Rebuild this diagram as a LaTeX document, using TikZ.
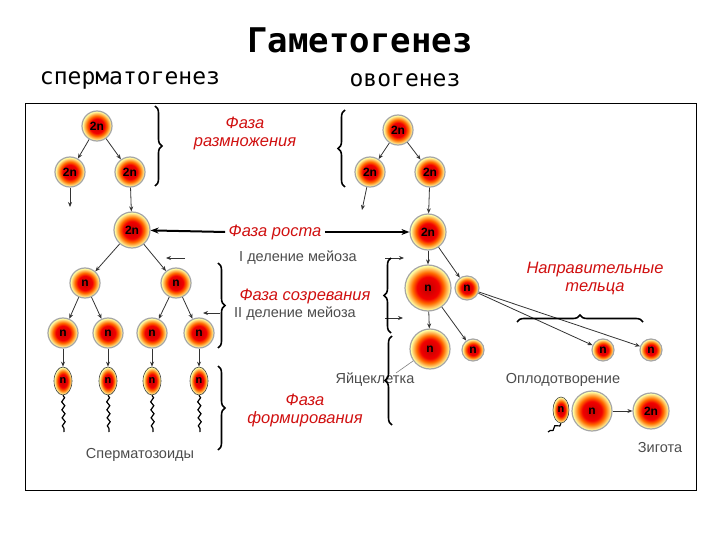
\documentclass[tikz,border=0pt]{standalone}
\usepackage{fontspec}
\setmainfont{Liberation Sans}
\newfontfamily\mono{DejaVu Sans Mono}
\usetikzlibrary{arrows.meta,decorations.pathreplacing,decorations.pathmorphing,shapes.geometric}
\pgfdeclareradialshading{cellsh}{\pgfpoint{0bp}{0bp}}{color(0bp)=(red!75!black); color(12bp)=(red!95!black); color(17bp)=(orange!85!red); color(24bp)=(yellow!35!white); color(50bp)=(yellow!12!white)}
\definecolor{lab}{HTML}{D01010}
\begin{document}
\begin{tikzpicture}[x=1pt,y=-1pt,
 cell/.style={circle,draw=gray!70,line width=1.2pt,shading=cellsh,minimum size=#1,inner sep=0pt,font=\bfseries\fontsize{12}{12}\selectfont},
 cell/.default=30pt,
 sperm/.style={ellipse,draw=gray!50!black,line width=0.6pt,shading=cellsh,minimum width=18pt,minimum height=28pt,inner sep=0pt,font=\bfseries\fontsize{11}{11}\selectfont},
 arr/.style={draw=gray!40!black,line width=0.8pt,-{Stealth[length=5pt,width=4pt]}},
 tail/.style={draw=black,line width=1.2pt,decorate,decoration={snake,amplitude=1.5pt,segment length=8pt}},
 br/.style={draw=black,line width=1.6pt,decorate,decoration={brace,amplitude=7pt}},
 red/.style={text=lab,font=\itshape\fontsize{16.5}{18}\selectfont,align=center},
 grey/.style={text=gray!60!black,font=\fontsize{14.5}{15}\selectfont}]
\useasboundingbox (0,0) rectangle (720,540);
\node[draw=black,line width=0.8pt,minimum width=671pt,minimum height=387pt,anchor=north west] (frame) at (25,103) {};
\node[font=\mono\bfseries\fontsize{34}{34}\selectfont] (t) at (360,40) {Гаметогенез};
\node[font=\mono\fontsize{23}{23}\selectfont] (t1) at (130,80) {сперматогенез};
\node[font=\mono\fontsize{23}{23}\selectfont] (t2) at (405,80) {овогенез};
% sperm side
\node[cell] (a1) at (97,126) {2n};
\node[cell] (a2) at (70,172) {2n};
\node[cell] (a3) at (130,172) {2n};
\coordinate (a2d) at (70,207);
\node[cell=36pt] (a4) at (132,230) {2n};
\node[cell] (b1) at (85,283) {n};
\node[cell] (b2) at (176,283) {n};
\foreach \i/\x in {1/63,2/108,3/152,4/199}{
 \node[cell] (c\i) at (\x,333) {n};
 \node[sperm] (s\i) at (\x,381) {n};
 \coordinate (e\i) at (\x+1,432);
 \draw[arr] (c\i) -- (s\i);
 \draw[tail] (s\i.south) -- (e\i);
}
\draw[arr] (a1) -- (a2); \draw[arr] (a1) -- (a3);
\draw[arr] (a2) -- (a2d); \draw[arr] (a3) -- (a4);
\draw[arr] (a4) -- (b1); \draw[arr] (a4) -- (b2);
\draw[arr] (b1) -- (c1); \draw[arr] (b1) -- (c2);
\draw[arr] (b2) -- (c3); \draw[arr] (b2) -- (c4);
\node[grey] (sp) at (140,455) {Сперматозоиды};
% egg side
\node[cell] (d1) at (398,130) {2n};
\node[cell] (d2) at (370,172) {2n};
\node[cell] (d3) at (430,172) {2n};
\coordinate (d2d) at (362,210);
\node[cell=36pt] (d4) at (428,232) {2n};
\node[cell=46pt] (e1) at (428,288) {n};
\node[cell=24pt] (e2) at (467,288) {n};
\node[cell=40pt] (f1) at (430,349) {n};
\node[cell=22pt] (f2) at (473,350) {n};
\node[cell=22pt] (p1) at (603,350) {n};
\node[cell=22pt] (p2) at (651,350) {n};
\draw[arr] (d1) -- (d2); \draw[arr] (d1) -- (d3);
\draw[arr] (d2) -- (d2d); \draw[arr] (d3) -- (d4);
\draw[arr] (d4) -- (e1); \draw[arr] (d4) -- (e2);
\draw[arr] (e1) -- (f1); \draw[arr] (e1) -- (f2);
\draw[arr] (e2) -- (p1); \draw[arr] (e2) -- (p2);
\node[grey] (yk) at (375,380) {Яйцеклетка};
\coordinate (ykl) at (396,373);
\draw[gray,line width=0.6pt] (ykl) -- (f1);
\node[grey] (op) at (563,380) {Оплодотворение};
\node[sperm,minimum width=16pt,minimum height=26pt] (s5) at (561,410) {n};
\coordinate (e5) at (548,432);
\draw[tail] (s5.south) -- (e5);
\node[cell=40pt] (g) at (592,411) {n};
\node[cell=36pt] (z) at (651,411) {2n};
\draw[arr] (g) -- (z);
\node[grey] (zg) at (660,448) {Зигота};
% meiosis labels
\node[grey] (m1) at (298,258) {I деление мейоза};
\node[grey] (m2) at (295,314) {II деление мейоза};
\coordinate (m1a) at (185,258); \coordinate (m1b) at (166,258);
\coordinate (m1c) at (385,258); \coordinate (m1d) at (404,258);
\coordinate (m2a) at (220,313); \coordinate (m2b) at (203,313);
\coordinate (m2c) at (385,318); \coordinate (m2d) at (403,318);
\draw[arr] (m1a) -- (m1b); \draw[arr] (m1c) -- (m1d);
\draw[arr] (m2a) -- (m2b); \draw[arr] (m2c) -- (m2d);
% phase labels
\node[red] (ph1) at (245,133) {Фаза\\размножения};
\node[red] (ph2) at (275,232) {Фаза роста};
\draw[line width=2pt,-{Stealth[length=8pt]}] (ph2.west) -- (a4);
\draw[line width=2pt,-{Stealth[length=8pt]}] (ph2.east) -- (d4);
\node[red] (ph3) at (305,296) {Фаза созревания};
\node[red] (ph4) at (305,410) {Фаза\\формирования};
\node[red] (ph5) at (595,278) {Направительные\\тельца};
% braces
\coordinate (b1t) at (155,106); \coordinate (b1b) at (155,186);
\draw[br] (b1t) -- (b1b);
\coordinate (b2t) at (345,110); \coordinate (b2b) at (345,187);
\draw[br] (b2b) -- (b2t);
\coordinate (b3t) at (218,263); \coordinate (b3b) at (218,348);
\draw[br] (b3t) -- (b3b);
\coordinate (b4t) at (391,258); \coordinate (b4b) at (391,333);
\draw[br] (b4b) -- (b4t);
\coordinate (b5t) at (218,366); \coordinate (b5b) at (218,450);
\draw[br] (b5t) -- (b5b);
\coordinate (b6t) at (392,336); \coordinate (b6b) at (392,425);
\draw[br] (b6b) -- (b6t);
\coordinate (b7l) at (517,322); \coordinate (b7r) at (643,322);
\draw[br] (b7l) -- (b7r);
\end{tikzpicture}
\end{document}
